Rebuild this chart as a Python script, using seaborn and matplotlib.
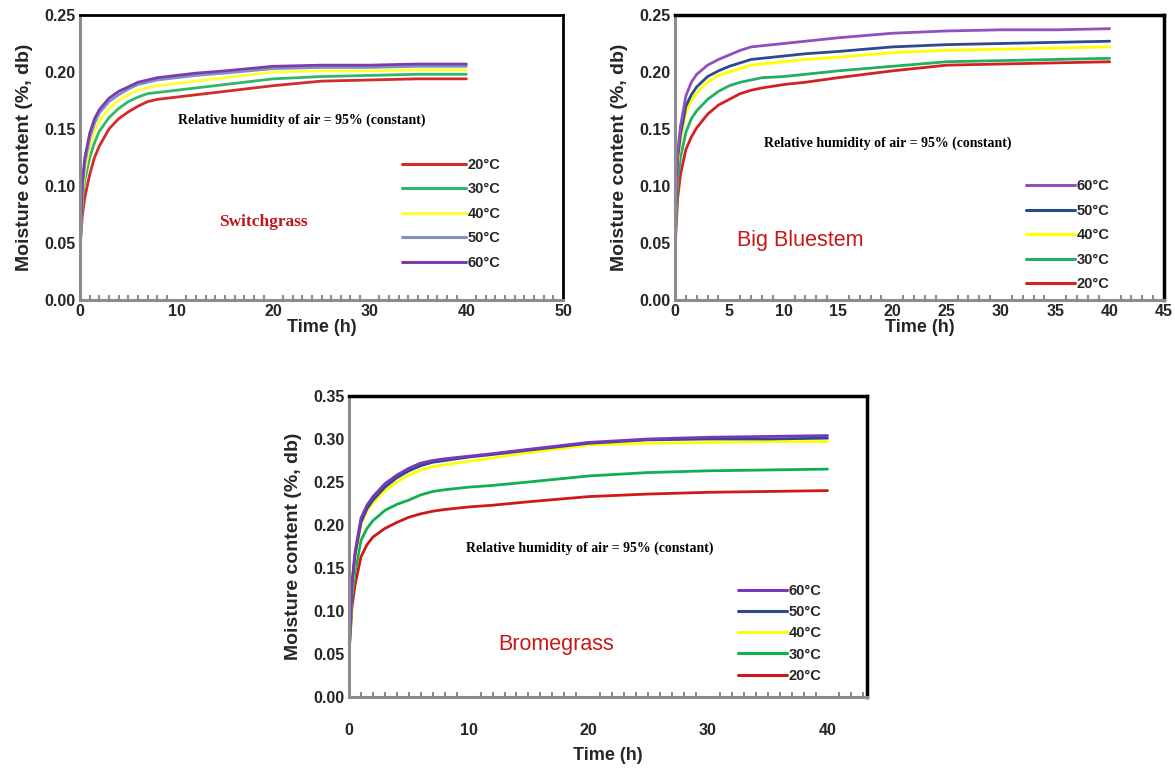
import numpy as np
import pandas as pd
import matplotlib
matplotlib.use("Agg")
import matplotlib.pyplot as plt
from matplotlib.ticker import MultipleLocator, FormatStrFormatter
from matplotlib.lines import Line2D
import seaborn as sns

sns.set_theme(style="white")
plt.rcParams['font.family'] = ['Liberation Sans', 'DejaVu Sans']
plt.rcParams['font.weight'] = 'bold'

# ---------------- data ----------------
time_h = [0, 0.25, 0.5, 1, 1.5, 2, 3, 4, 5, 6, 7, 8, 10, 12, 15, 20, 25, 30, 35, 40]
temps = ["20°C", "30°C", "40°C", "50°C", "60°C"]

# Switchgrass
sw_20 = [0.045, 0.075, 0.090, 0.110, 0.125, 0.135, 0.150, 0.159, 0.165, 0.170, 0.174, 0.176, 0.178, 0.180, 0.183, 0.188, 0.192, 0.193, 0.194, 0.194]
sw_30 = [0.045, 0.088, 0.105, 0.125, 0.138, 0.148, 0.160, 0.168, 0.174, 0.178, 0.181, 0.182, 0.184, 0.186, 0.189, 0.194, 0.196, 0.197, 0.198, 0.198]
sw_40 = [0.045, 0.095, 0.113, 0.135, 0.148, 0.157, 0.168, 0.175, 0.180, 0.184, 0.186, 0.188, 0.190, 0.192, 0.195, 0.200, 0.201, 0.201, 0.202, 0.202]
sw_50 = [0.045, 0.100, 0.120, 0.142, 0.155, 0.164, 0.174, 0.180, 0.185, 0.189, 0.191, 0.193, 0.195, 0.197, 0.199, 0.203, 0.204, 0.204, 0.205, 0.205]
sw_60 = [0.045, 0.104, 0.125, 0.146, 0.159, 0.167, 0.177, 0.183, 0.187, 0.191, 0.193, 0.195, 0.197, 0.199, 0.201, 0.205, 0.206, 0.206, 0.207, 0.207]

# Big Bluestem
bb_20 = [0.045, 0.090, 0.110, 0.132, 0.143, 0.151, 0.163, 0.171, 0.176, 0.181, 0.184, 0.186, 0.189, 0.191, 0.195, 0.201, 0.206, 0.207, 0.208, 0.209]
bb_30 = [0.050, 0.105, 0.125, 0.147, 0.159, 0.166, 0.176, 0.183, 0.188, 0.191, 0.193, 0.195, 0.196, 0.198, 0.201, 0.205, 0.209, 0.210, 0.211, 0.212]
bb_40 = [0.055, 0.120, 0.140, 0.164, 0.175, 0.182, 0.191, 0.197, 0.200, 0.203, 0.206, 0.207, 0.209, 0.211, 0.213, 0.217, 0.219, 0.220, 0.221, 0.222]
bb_50 = [0.055, 0.125, 0.145, 0.170, 0.180, 0.187, 0.196, 0.201, 0.205, 0.208, 0.211, 0.212, 0.214, 0.216, 0.218, 0.222, 0.224, 0.225, 0.226, 0.227]
bb_60 = [0.060, 0.130, 0.152, 0.179, 0.191, 0.198, 0.206, 0.211, 0.215, 0.219, 0.222, 0.223, 0.225, 0.227, 0.230, 0.234, 0.236, 0.237, 0.237, 0.238]

# Bromegrass
br_20 = [0.050, 0.105, 0.130, 0.163, 0.177, 0.186, 0.196, 0.203, 0.209, 0.213, 0.216, 0.218, 0.221, 0.223, 0.227, 0.233, 0.236, 0.238, 0.239, 0.240]
br_30 = [0.050, 0.115, 0.145, 0.182, 0.196, 0.205, 0.217, 0.224, 0.229, 0.235, 0.239, 0.241, 0.244, 0.246, 0.250, 0.257, 0.261, 0.263, 0.264, 0.265]
br_40 = [0.050, 0.125, 0.160, 0.201, 0.216, 0.226, 0.240, 0.250, 0.258, 0.264, 0.268, 0.270, 0.274, 0.278, 0.284, 0.293, 0.295, 0.296, 0.297, 0.297]
br_50 = [0.050, 0.130, 0.165, 0.203, 0.219, 0.229, 0.244, 0.255, 0.263, 0.269, 0.273, 0.275, 0.279, 0.282, 0.287, 0.295, 0.299, 0.300, 0.300, 0.301]
br_60 = [0.050, 0.132, 0.168, 0.208, 0.223, 0.233, 0.248, 0.258, 0.266, 0.272, 0.275, 0.277, 0.280, 0.283, 0.288, 0.296, 0.300, 0.302, 0.303, 0.304]

panels = [
    dict(name="Switchgrass", series=[sw_20, sw_30, sw_40, sw_50, sw_60],
         xlim=50, xmajor=10, ylim=0.25,
         colors=["#d42a2a", "#2fb86a", "#ffff33", "#8090c0", "#7a3cb0"],
         order=temps),
    dict(name="Big Bluestem", series=[bb_20, bb_30, bb_40, bb_50, bb_60],
         xlim=45, xmajor=5, ylim=0.25,
         colors=["#d42020", "#22b060", "#ffff00", "#2c4a8c", "#9050c0"],
         order=temps[::-1]),
    dict(name="Bromegrass", series=[br_20, br_30, br_40, br_50, br_60],
         xlim=43.3, xmajor=10, ylim=0.35,
         colors=["#d01818", "#10b050", "#ffff00", "#2c4a8c", "#7a38b8"],
         order=temps[::-1]),
]

fig = plt.figure(figsize=(11.75, 7.76), dpi=100)
rects = [
    [80 / 1175, 1 - 300 / 776, (563 - 80) / 1175, (300 - 15) / 776],
    [675 / 1175, 1 - 300 / 776, (1164 - 675) / 1175, (300 - 15) / 776],
    [349 / 1175, 1 - 697 / 776, (867 - 349) / 1175, (697 - 396) / 776],
]

rh_text = "Relative humidity of air = 95% (constant)"
rh_pos = [(0.46, 0.63), (0.436, 0.55), (0.465, 0.495)]
name_pos = [(0.38, 0.274), (0.256, 0.21), (0.40, 0.175)]
leg_anchor = [(0.64, 0.545), (0.69, 0.47), (0.725, 0.42)]
leg_spacing = [0.72, 0.72, 0.5]
handle_len = [4.4, 3.4, 3.4]
tick_pad = [3, 3, 19]
label_pad = [0, 0, 6]
ylabel_pad = [8, 8, 8]

for i, (p, r) in enumerate(zip(panels, rects)):
    ax = fig.add_axes(r)
    rows = []
    for temp, vals in zip(temps, p["series"]):
        for t, v in zip(time_h, vals):
            rows.append({"Time (h)": t, "mc": v, "temp": temp})
    df = pd.DataFrame(rows)
    pal = dict(zip(temps, p["colors"]))
    sns.lineplot(data=df, x="Time (h)", y="mc", hue="temp", palette=pal,
                 hue_order=temps, linewidth=2.0, ax=ax, legend=False)

    ax.set_xlim(0, p["xlim"])
    ax.set_ylim(0, p["ylim"])
    ax.xaxis.set_major_locator(MultipleLocator(p["xmajor"]))
    ax.xaxis.set_minor_locator(MultipleLocator(1))
    ax.yaxis.set_major_locator(MultipleLocator(0.05))
    ax.yaxis.set_major_formatter(FormatStrFormatter("%.2f"))
    ax.tick_params(axis="x", which="major", direction="in", length=6, width=1.5,
                   color="#8c8c8c", labelsize=11.5, pad=tick_pad[i])
    ax.tick_params(axis="x", which="minor", direction="in", length=3.5, width=1.5,
                   color="#8c8c8c", bottom=True)
    ax.tick_params(axis="y", which="major", direction="in", length=3, width=1.2,
                   color="#8c8c8c", labelsize=11.5, pad=3)
    for s in ["left", "bottom"]:
        ax.spines[s].set_color("#8c8c8c")
        ax.spines[s].set_linewidth(2.2)
    for s in ["top", "right"]:
        ax.spines[s].set_color("black")
        ax.spines[s].set_linewidth(2.5 if i > 0 else 2.0)
    ax.set_xlabel("Time (h)", fontsize=13, fontweight="bold", labelpad=label_pad[i])
    ax.set_ylabel("Moisture content (%, db)", fontsize=14, fontweight="bold",
                  labelpad=ylabel_pad[i])

    ax.text(*rh_pos[i], rh_text, transform=ax.transAxes, ha="center", va="center",
            fontsize=10, fontweight="bold", family=["Liberation Serif", "DejaVu Serif"],
            color="black")
    if i == 0:
        ax.text(*name_pos[i], p["name"], transform=ax.transAxes, ha="center", va="center",
                fontsize=12.5, fontweight="bold", family=["Liberation Serif", "DejaVu Serif"],
                color="#c01818")
    else:
        ax.text(*name_pos[i], p["name"], transform=ax.transAxes, ha="center", va="center",
                fontsize=15.5, fontweight="normal", color="#c81818")

    handles = [Line2D([], [], color=pal[t], lw=2.2) for t in p["order"]]
    ax.legend(handles, p["order"], loc="upper left", bbox_to_anchor=leg_anchor[i],
              frameon=False, handlelength=handle_len[i], handletextpad=0.1,
              labelspacing=leg_spacing[i],
              prop={"weight": "bold", "size": 10.5})

fig.savefig("out.png", dpi=100)
